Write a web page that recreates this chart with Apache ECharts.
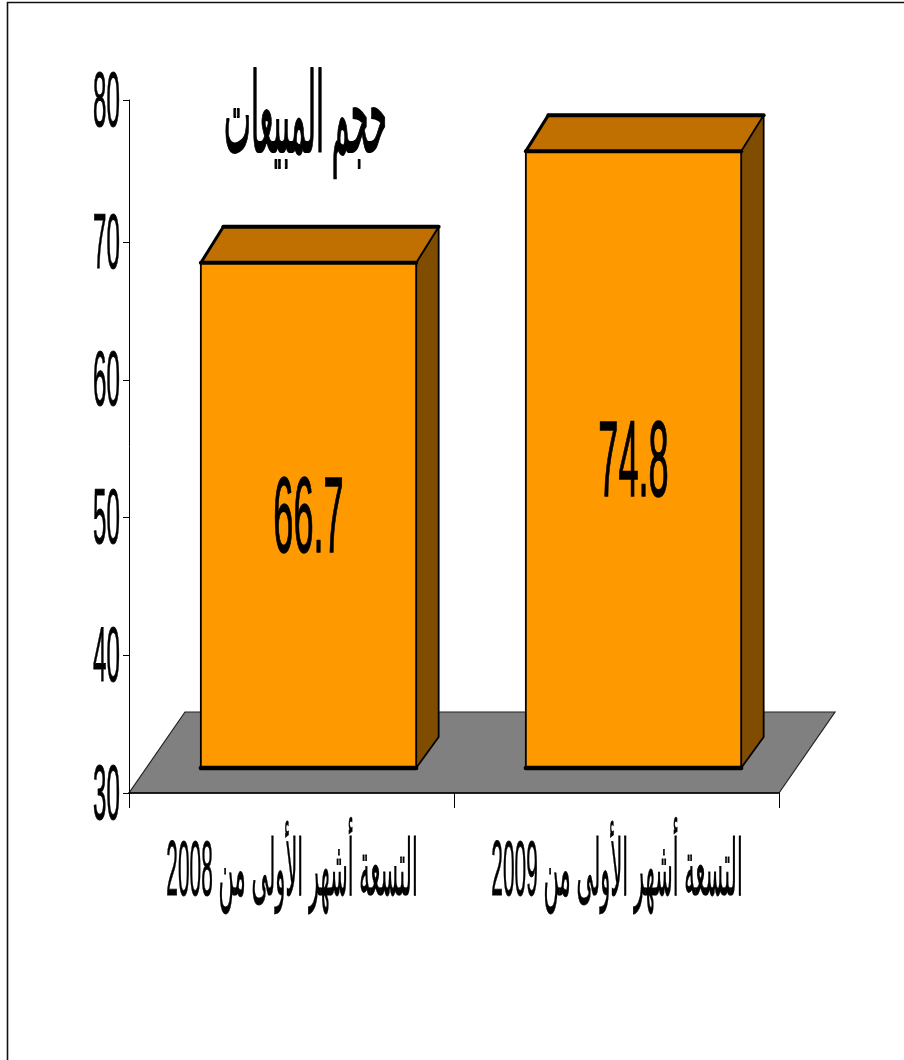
<!DOCTYPE html>
<html><head><meta charset="utf-8">
<style>html,body{margin:0;padding:0;background:#fff}#c{width:904px;height:1060px}</style>
<script src="https://cdn.jsdelivr.net/npm/echarts@6/dist/echarts.min.js"></script>
</head><body><div id="c"></div>
<script>
const categories = ['التسعة أشهر الأولى من 2008', 'التسعة أشهر الأولى من 2009'];
const salesValues = [66.7, 74.8];
const valueLabels = ['66.7', '74.8'];
const yTickLabels = ['30', '40', '50', '60', '70', '80'];
// The reference axis runs slightly past 80 on a linear scale; its top tick carries the "80" label.
const yTickValues = [30, 40, 50, 60, 70, 80.33];
const chartTitle = 'حجم المبيعات';

const FONT = '"Liberation Sans","DejaVu Sans",sans-serif';
const chart = echarts.init(document.getElementById('c'));

function renderFloor(params, api) {
  const a = api.coord([0, 30]);
  const cs = params.coordSys;
  const x0 = cs.x, x1 = cs.x + cs.width, y = a[1], dx = 56, dy = -81;
  return {type:'polygon', shape:{points:[[x0,y],[x1,y],[x1+dx,y+dy],[x0+dx,y+dy]]},
    style:{fill:'#808080', stroke:'#222', lineWidth:1.2}};
}
function renderBar(params, api) {
  const i = api.value(0), v = api.value(1);
  const c = api.coord([i, v]), b = api.coord([i, 30]);
  const w = api.size([1, 0])[0] * 0.6625;
  const x0 = c[0] + 17 - w / 2, x1 = x0 + w;
  const yt = c[1] - 25, yb = b[1] - 25;
  const dx = 22.5, dyt = -36, dyb = -31;
  const mk = (pts, fill) => ({type:'polygon', shape:{points:pts}, style:{fill, stroke:'#000', lineWidth:1.8, lineJoin:'round'}});
  const ln = (p, q, lw) => ({type:'line', shape:{x1:p[0],y1:p[1],x2:q[0],y2:q[1]}, style:{stroke:'#000', lineWidth:lw, lineCap:'round'}});
  return {type:'group', children:[
    mk([[x1,yt],[x1+dx,yt+dyt],[x1+dx,yb+dyb],[x1,yb]], '#7F4C00'),
    mk([[x0,yt],[x1,yt],[x1+dx,yt+dyt],[x0+dx,yt+dyt]], '#BF7000'),
    mk([[x0,yt],[x1,yt],[x1,yb],[x0,yb]], '#FF9900'),
    ln([x0,yt],[x1,yt],4), ln([x0+dx,yt+dyt],[x1+dx,yt+dyt],4), ln([x0,yt],[x0+dx,yt+dyt],3),
    ln([x0,yb],[x1,yb],4.5),
    {type:'text', x:(x0+x1)/2, y:(yt+yb)/2+7, scaleX:0.335, scaleY:1,
      style:{text:valueLabels[i], fill:'#000', stroke:'#000', lineWidth:1.5, font:'108px '+FONT, align:'center', verticalAlign:'middle'}}
  ]};
}
function renderYLabel(params, api) {
  const p = api.coord([0, api.value(0)]);
  return {type:'text', x:120, y:p[1]+4, scaleX:0.31, scaleY:1,
    style:{text:yTickLabels[params.dataIndex], fill:'#000', stroke:'#000', lineWidth:1, font:'78px '+FONT, align:'right', verticalAlign:'middle'}};
}
function renderXLabel(params, api) {
  const i = api.value(0), p = api.coord([i, 30]);
  return {type:'text', x:p[0]+0.5, y:873, scaleX:0.268, scaleY:1,
    style:{text:categories[i], fill:'#000', stroke:'#000', lineWidth:0.8, font:'78px '+FONT, align:'center', verticalAlign:'middle'}};
}

chart.setOption({
  animation:false, backgroundColor:'#fff',
  grid:{left:129, top:100, width:650, height:693},
  xAxis:{type:'category', data:categories, z:5,
    axisLine:{lineStyle:{color:'#000', width:1.5}}, axisTick:{show:true, length:15, lineStyle:{color:'#000', width:1}},
    axisLabel:{show:false}, splitLine:{show:false}},
  yAxis:{type:'value', min:30, max:yTickValues[5], interval:10, z:5,
    axisLine:{show:true, lineStyle:{color:'#000', width:1}},
    axisTick:{show:true, length:6, customValues:yTickValues, lineStyle:{color:'#000', width:1}},
    axisLabel:{show:false}, splitLine:{show:false}},
  graphic:[
    {type:'polyline', shape:{points:[[7.5,1060],[7.5,2.5],[904,2.5]]}, style:{stroke:'#111', lineWidth:1.6, fill:null}, z:0},
    {type:'text', x:305.5, y:122, scaleX:0.26, scaleY:1, z:20,
      style:{text:chartTitle, fill:'#000', stroke:'#000', lineWidth:2, font:'110px '+FONT, align:'center', verticalAlign:'middle'}}
  ],
  series:[
    {type:'custom', name:'floor', renderItem:renderFloor, data:[[0,30]], z:1, silent:true},
    {type:'custom', name:'sales', renderItem:renderBar, data:salesValues.map((v,i)=>[i,v]), encode:{x:0,y:1}, z:2, silent:true},
    {type:'custom', name:'yLabels', renderItem:renderYLabel, data:yTickValues.map(t=>[t]), z:3, silent:true},
    {type:'custom', name:'xLabels', renderItem:renderXLabel, data:categories.map((c,i)=>[i]), z:3, silent:true}
  ]
});
</script></body></html>
